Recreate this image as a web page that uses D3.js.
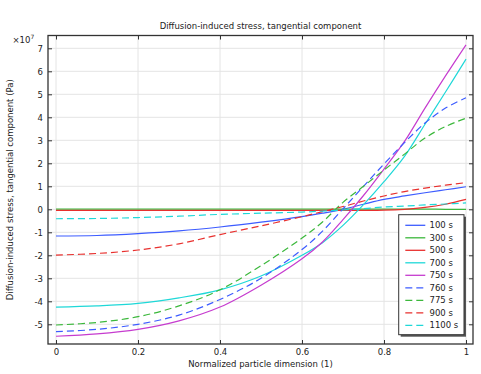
<!DOCTYPE html>
<html>
<head>
<meta charset="utf-8">
<script src="https://cdn.jsdelivr.net/npm/d3@7"></script>
<style>
  body { margin: 0; background: #fff; }
  text { font-family: "DejaVu Sans", sans-serif; fill: #222; }
  .grid line { stroke: #e4e4e4; stroke-width: 1; }
  .series { fill: none; stroke-width: 1.2; }
</style>
</head>
<body>
<div id="chart"></div>
<script>
// Normalized particle dimension (x), values in units of 1e7 Pa
const xPoints = [0, 0.1, 0.2, 0.3, 0.4, 0.5, 0.6, 0.65, 0.7, 0.75, 0.8, 0.85, 0.9, 0.95, 1];

const s100  = [-1.16, -1.14, -1.06, -0.94, -0.77, -0.56, -0.32, -0.17, 0.0, 0.22, 0.43, 0.58, 0.72, 0.85, 0.98];
const s300  = [0.01, 0.01, 0.01, 0.01, 0.01, 0.01, 0.01, 0.01, 0.01, 0.01, 0.01, 0.01, 0.01, 0.0, 0.0];
const s500  = [-0.05, -0.05, -0.05, -0.05, -0.05, -0.05, -0.05, -0.05, -0.05, -0.05, -0.04, 0.0, 0.08, 0.22, 0.43];
const s700  = [-4.25, -4.2, -4.09, -3.85, -3.5, -2.9, -2.0, -1.45, -0.7, 0.2, 1.2, 2.3, 3.7, 5.1, 6.53];
const s750  = [-5.52, -5.42, -5.22, -4.85, -4.25, -3.3, -2.15, -1.42, -0.45, 0.6, 1.75, 2.95, 4.4, 5.8, 7.15];
const s760  = [-5.32, -5.22, -5.0, -4.6, -3.92, -3.0, -1.75, -0.95, 0.02, 1.0, 1.97, 2.9, 3.75, 4.4, 4.85];
const s775  = [-5.03, -4.92, -4.67, -4.2, -3.5, -2.45, -1.25, -0.55, 0.3, 1.0, 1.71, 2.4, 3.1, 3.6, 3.96];
const s900  = [-1.99, -1.92, -1.77, -1.5, -1.1, -0.72, -0.32, -0.1, 0.12, 0.36, 0.58, 0.77, 0.92, 1.05, 1.16];
const s1100 = [-0.41, -0.40, -0.36, -0.3, -0.22, -0.17, -0.12, -0.08, -0.03, 0.03, 0.1, 0.14, 0.19, 0.23, 0.28];

const seriesNames = ["100 s", "300 s", "500 s", "700 s", "750 s", "760 s", "775 s", "900 s", "1100 s"];
const seriesValues = [s100, s300, s500, s700, s750, s760, s775, s900, s1100];

const xTicks = [0, 0.2, 0.4, 0.6, 0.8, 1];
const yTicks = [-5, -4, -3, -2, -1, 0, 1, 2, 3, 4, 5, 6, 7];

const colors = ["#3d5cff", "#3cb83c", "#e8302e", "#1fd8d8", "#c63ccf",
                "#3d5cff", "#3cb83c", "#e8302e", "#1fd8d8"];
const dashed = [false, false, false, false, false, true, true, true, true];

// frame of the plot
const width = 481, height = 374;
const frame = {left: 48, right: 473, top: 35.5, bottom: 344};

const svg = d3.select("#chart").append("svg")
    .attr("width", width)
    .attr("height", height);

// x: 0 -> 56px, 1 -> 466px ; y: 23px per unit, 0 at 209.3px
const x = d3.scaleLinear()
    .domain([-8 / 410, 1 + 7 / 410])
    .range([frame.left, frame.right]);
const y = d3.scaleLinear()
    .domain([(209.3 - frame.bottom) / 23, (209.3 - frame.top) / 23])
    .range([frame.bottom, frame.top]);

// grid
const grid = svg.append("g").attr("class", "grid");
grid.selectAll(".gx").data(xTicks).enter().append("line")
    .attr("x1", d => x(d)).attr("x2", d => x(d))
    .attr("y1", frame.top).attr("y2", frame.bottom);
grid.selectAll(".gy").data(yTicks).enter().append("line")
    .attr("x1", frame.left).attr("x2", frame.right)
    .attr("y1", d => y(d)).attr("y2", d => y(d));

// clip lines to the frame
svg.append("clipPath").attr("id", "clip")
  .append("rect")
    .attr("x", frame.left).attr("y", frame.top)
    .attr("width", frame.right - frame.left)
    .attr("height", frame.bottom - frame.top);

const line = d3.line()
    .x((d, i) => x(xPoints[i]))
    .y(d => y(d))
    .curve(d3.curveCatmullRom.alpha(0.5));

svg.append("g").attr("clip-path", "url(#clip)")
  .selectAll("path").data(seriesValues).enter().append("path")
    .attr("class", "series")
    .attr("stroke", (d, i) => colors[i])
    .attr("stroke-dasharray", (d, i) => dashed[i] ? "7,4" : null)
    .attr("d", line);

// axes: ticks pointing inward on all four sides
svg.append("g")
    .attr("transform", "translate(0," + frame.bottom + ")")
    .call(d3.axisBottom(x).tickValues(xTicks).tickSize(-4).tickPadding(5).tickFormat(d3.format("~g")));
svg.append("g")
    .attr("transform", "translate(0," + frame.top + ")")
    .call(d3.axisTop(x).tickValues(xTicks).tickSize(-4).tickFormat(""));
svg.append("g")
    .attr("transform", "translate(" + frame.left + ",0)")
    .call(d3.axisLeft(y).tickValues(yTicks).tickSize(-4).tickPadding(5).tickFormat(d => d < 0 ? "-" + Math.abs(d) : d));
svg.append("g")
    .attr("transform", "translate(" + frame.right + ",0)")
    .call(d3.axisRight(y).tickValues(yTicks).tickSize(-4).tickFormat(""));

svg.selectAll(".domain").remove();
svg.selectAll(".tick line").attr("stroke", "#333");
svg.selectAll(".tick text")
    .style("font-family", "DejaVu Sans")
    .style("font-size", "8.5px")
    .attr("fill", "#222");

svg.append("rect")
    .attr("x", frame.left).attr("y", frame.top)
    .attr("width", frame.right - frame.left)
    .attr("height", frame.bottom - frame.top)
    .attr("fill", "none")
    .attr("stroke", "#333")
    .attr("stroke-width", 1.3);

// title and labels
svg.append("text")
    .attr("x", (frame.left + frame.right) / 2).attr("y", 29)
    .attr("text-anchor", "middle")
    .style("font-size", "8.5px")
    .text("Diffusion-induced stress, tangential component");

svg.append("text")
    .attr("x", (frame.left + frame.right) / 2).attr("y", 367)
    .attr("text-anchor", "middle")
    .style("font-size", "8.5px")
    .text("Normalized particle dimension (1)");

svg.append("text")
    .attr("transform", "translate(13," + (frame.top + frame.bottom) / 2 + ") rotate(-90)")
    .attr("text-anchor", "middle")
    .style("font-size", "8.5px")
    .text("Diffusion-induced stress, tangential component (Pa)");

const expo = svg.append("text")
    .attr("x", 12.5).attr("y", 43)
    .style("font-size", "8.5px");
expo.append("tspan").text("\u00d710");
expo.append("tspan").attr("dy", -4).style("font-size", "6px").text("7");

// legend
const legend = {left: 398.7, top: 214.7, width: 65.3, height: 120};
svg.append("rect")
    .attr("x", legend.left + 2).attr("y", legend.top + 2)
    .attr("width", legend.width).attr("height", legend.height)
    .attr("fill", "#555");
svg.append("rect")
    .attr("x", legend.left).attr("y", legend.top)
    .attr("width", legend.width).attr("height", legend.height)
    .attr("fill", "#fff")
    .attr("stroke", "#333")
    .attr("stroke-width", 1);

const rows = svg.append("g").selectAll("g").data(seriesNames).enter().append("g")
    .attr("transform", (d, i) => "translate(0," + (225.3 + i * 12.5) + ")");
rows.append("line")
    .attr("x1", 405.3).attr("x2", 425.3)
    .attr("stroke", (d, i) => colors[i])
    .attr("stroke-width", 1.3)
    .attr("stroke-dasharray", (d, i) => dashed[i] ? "7,4" : null);
rows.append("text")
    .attr("x", 429.5).attr("y", 3)
    .style("font-size", "8.5px")
    .text(d => d);
</script>
</body>
</html>
